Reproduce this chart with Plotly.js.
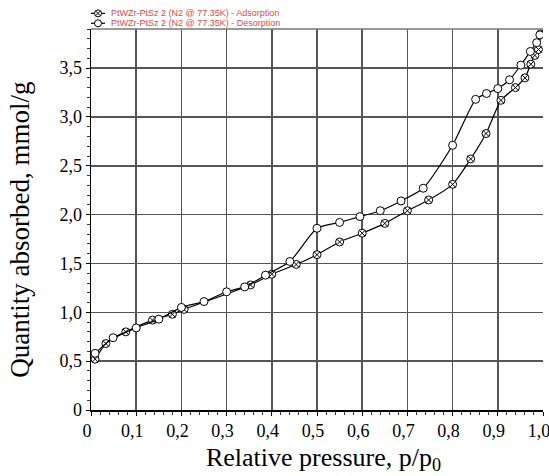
<!DOCTYPE html>
<html>
<head>
<meta charset="utf-8">
<script src="https://cdn.plot.ly/plotly-3.0.1.min.js"></script>
<style>html,body{margin:0;padding:0;background:#fff;}#chart{width:549px;height:476px;}</style>
</head>
<body>
<div id="chart"></div>
<script>
var seriesNames = ["PtWZr-PtSz 2 (N2 @ 77.35K) - Adsorption", "PtWZr-PtSz 2 (N2 @ 77.35K) - Desorption"];

var adsX = [0.009, 0.033, 0.077, 0.136, 0.180, 0.206, 0.353, 0.400, 0.454, 0.500, 0.550, 0.600, 0.650, 0.700, 0.747, 0.800, 0.840, 0.874, 0.907, 0.939, 0.960, 0.973, 0.982, 0.990, 0.995];
var adsY = [0.52, 0.68, 0.80, 0.92, 0.98, 1.03, 1.28, 1.39, 1.49, 1.59, 1.72, 1.81, 1.91, 2.04, 2.15, 2.31, 2.57, 2.83, 3.17, 3.30, 3.40, 3.54, 3.63, 3.69, 3.85];

var desX = [0.009, 0.049, 0.100, 0.150, 0.200, 0.250, 0.300, 0.340, 0.386, 0.440, 0.500, 0.550, 0.595, 0.640, 0.686, 0.735, 0.800, 0.851, 0.875, 0.900, 0.926, 0.951, 0.972, 0.986, 0.993];
var desY = [0.58, 0.74, 0.84, 0.93, 1.05, 1.11, 1.21, 1.26, 1.38, 1.52, 1.86, 1.92, 1.98, 2.04, 2.14, 2.27, 2.71, 3.18, 3.24, 3.29, 3.38, 3.53, 3.67, 3.76, 3.84];

var xTickVals = [0, 0.1, 0.2, 0.3, 0.4, 0.5, 0.6, 0.7, 0.8, 0.9, 1.0];
var xTickText = ["0", "0,1", "0,2", "0,3", "0,4", "0,5", "0,6", "0,7", "0,8", "0,9", "1,0"];
var yTickVals = [0, 0.5, 1.0, 1.5, 2.0, 2.5, 3.0, 3.5];
var yTickText = ["0", "0,5", "1,0", "1,5", "2,0", "2,5", "3,0", "3,5"];

var xTitle = "&nbsp;&nbsp;Relative pressure, p/p<sub>0</sub>";
var yTitle = "Quantity absorbed, mmol/g&nbsp;&nbsp;&nbsp;";

var traces = [
  {
    x: adsX, y: adsY, name: seriesNames[0], type: "scatter", mode: "lines+markers", showlegend: false,
    line: {color: "#000", width: 1.2, shape: "spline", smoothing: 0.6},
    marker: {symbol: "circle-x", size: 8, color: "#fff", line: {color: "#000", width: 1}}
  },
  {
    x: desX, y: desY, name: seriesNames[1], type: "scatter", mode: "lines+markers", showlegend: false,
    line: {color: "#000", width: 1.2, shape: "spline", smoothing: 0.6},
    marker: {symbol: "circle", size: 8, color: "#fff", line: {color: "#000", width: 1}}
  }
];

var serif = "Liberation Serif, Times New Roman, serif";

// legend drawn in the top margin (paper coordinates, pixel-sized symbols)
var legRowsY = [1.041, 1.015];
var legSymX = 0.0155;   // paper x of symbol centre
var legTextX = 0.043;   // paper x where legend text starts
var shapes = [
  {type: "line", xref: "paper", yref: "paper", x0: 0, x1: 1, y0: 1, y1: 1, line: {color: "#777", width: 1.5}}
];
var annotations = [];
legRowsY.forEach(function (ry, i) {
  shapes.push({type: "line", xref: "paper", yref: "paper", xsizemode: "pixel", ysizemode: "pixel",
    xanchor: legSymX, yanchor: ry, x0: -7, x1: 7, y0: 0, y1: 0, line: {color: "#000", width: 1.2}});
  shapes.push({type: "circle", xref: "paper", yref: "paper", xsizemode: "pixel", ysizemode: "pixel",
    xanchor: legSymX, yanchor: ry, x0: -3.5, x1: 3.5, y0: -3.5, y1: 3.5,
    fillcolor: "#fff", line: {color: "#000", width: 1}});
  if (i === 0) {
    shapes.push({type: "line", xref: "paper", yref: "paper", xsizemode: "pixel", ysizemode: "pixel",
      xanchor: legSymX, yanchor: ry, x0: -2.4, x1: 2.4, y0: -2.4, y1: 2.4, line: {color: "#000", width: 1}});
    shapes.push({type: "line", xref: "paper", yref: "paper", xsizemode: "pixel", ysizemode: "pixel",
      xanchor: legSymX, yanchor: ry, x0: -2.4, x1: 2.4, y0: 2.4, y1: -2.4, line: {color: "#000", width: 1}});
  }
  annotations.push({xref: "paper", yref: "paper", x: legTextX, y: ry, xanchor: "left", yanchor: "middle",
    text: seriesNames[i], showarrow: false, borderpad: 0,
    font: {family: "Arial, Liberation Sans, sans-serif", size: 9, color: "#e04848"}});
});

var layout = {
  width: 549, height: 476,
  margin: {l: 91, r: 6, t: 29, b: 66},
  paper_bgcolor: "#fff", plot_bgcolor: "#fff",
  showlegend: false,
  xaxis: {
    range: [0, 1.0], tickvals: xTickVals, ticktext: xTickText, ticklabeloverflow: "allow",
    ticklabelshift: -4,
    tickfont: {family: serif, size: 18, color: "#000"},
    showgrid: true, gridcolor: "#555", gridwidth: 1.5,
    zeroline: false, showline: true, linecolor: "#000", linewidth: 1.5,
    mirror: false, ticks: "outside", ticklen: 4, tickcolor: "#000",
    minor: {dtick: 0.02, ticks: "outside", ticklen: 3, tickcolor: "#333", showgrid: false},
    title: {text: xTitle, font: {family: serif, size: 26, color: "#000"}, standoff: 7}
  },
  yaxis: {
    range: [0, 3.9], tickvals: yTickVals, ticktext: yTickText,
    tickfont: {family: serif, size: 18, color: "#000"},
    showgrid: true, gridcolor: "#555", gridwidth: 1.5,
    zeroline: false, showline: true, linecolor: "#000", linewidth: 1.5,
    ticks: "outside", ticklen: 4, tickcolor: "#000",
    minor: {dtick: 0.1, ticks: "outside", ticklen: 3, tickcolor: "#333", showgrid: false},
    title: {text: yTitle, font: {family: serif, size: 27, color: "#000"}, standoff: 22}
  },
  shapes: shapes,
  annotations: annotations
};

Plotly.newPlot("chart", traces, layout, {displayModeBar: false, staticPlot: true});
</script>
</body>
</html>
